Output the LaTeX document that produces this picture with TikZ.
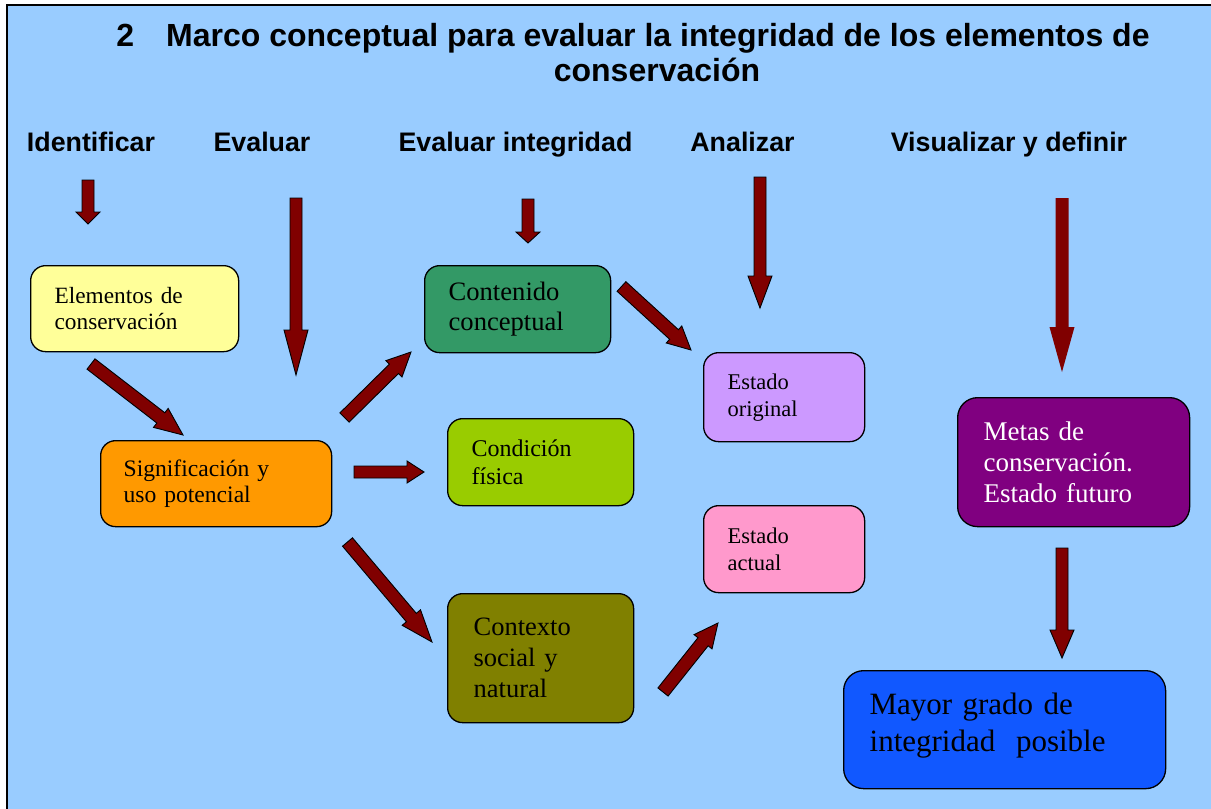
\documentclass[tikz,border=0pt]{standalone}
\usepackage{fontspec}
\setmainfont{Liberation Serif}
\newfontfamily\hfont{Liberation Sans}
\usetikzlibrary{calc}
\definecolor{bg}{HTML}{99CCFF}
\definecolor{arrowred}{HTML}{800000}
\definecolor{cyellow}{HTML}{FFFF99}
\definecolor{corange}{HTML}{FF9900}
\definecolor{cgreen}{HTML}{339966}
\definecolor{clime}{HTML}{99CC00}
\definecolor{clav}{HTML}{CC99FF}
\definecolor{cpink}{HTML}{FF99CC}
\definecolor{cpurple}{HTML}{800080}
\definecolor{colive}{HTML}{808000}
\definecolor{cblue}{HTML}{1158FF}
\tikzset{
  box/.style={draw=black, line width=1.3pt, rounded corners=15pt, anchor=north west,
    inner ysep=0pt, align=left},
  blockarr/.style={fill=arrowred, draw=black, line width=0.9pt, line join=miter},
  heading/.style={font=\hfont\bfseries\fontsize{26.8}{30}\selectfont, anchor=base, inner sep=0pt},
  titletext/.style={font=\hfont\bfseries\fontsize{32}{37}\selectfont, anchor=base, inner sep=0pt},
}
\newcommand{\blockarrow}[6][]{%
  \coordinate (neck) at ($(#3)!#6!(#2)$);
  \draw[blockarr,#1] ($(#2)!#4!90:(#3)$) -- ($(neck)!#4!90:(#3)$) -- ($(neck)!#5!90:(#3)$)
    -- (#3) -- ($(neck)!#5!-90:(#3)$) -- ($(neck)!#4!-90:(#3)$) -- ($(#2)!#4!-90:(#3)$) -- cycle;
}
\begin{document}
\begin{tikzpicture}[x=1pt,y=-1pt]
\useasboundingbox (0,0) rectangle (1211,809);
\clip (0,0) rectangle (1211,809);
\fill[white] (0,0) rectangle (1211,809);
\draw[fill=bg, draw=black, line width=2pt] (7,5) rectangle (1225,825);

% title
\node[titletext] (title1) at (633,46) {2\quad Marco conceptual para evaluar la integridad de los elementos de};
\node[titletext] (title2) at (657,81) {conservación};

% headings
\node[heading] (h1) at (91,151) {Identificar};
\node[heading] (h2) at (262,151) {Evaluar};
\node[heading] (h3) at (515.5,151) {Evaluar integridad};
\node[heading] (h4) at (742.5,151) {Analizar};
\node[heading] (h5) at (1009,151) {Visualizar y definir};

% boxes
\node[box, fill=cyellow, minimum width=208pt, minimum height=86pt, text width=160pt, inner xsep=24pt,
  font=\fontsize{23.3}{26}\selectfont] (elem) at (30,265) {Elementos de\\conservación};
\node[box, fill=corange, minimum width=231pt, minimum height=86pt, text width=185pt, inner xsep=23pt,
  font=\fontsize{23.6}{26}\selectfont] (sig) at (100,440) {Significación y\\uso potencial};
\node[box, fill=cgreen, minimum width=186pt, minimum height=87pt, text width=138pt, inner xsep=24pt,
  font=\fontsize{26.6}{30}\selectfont] (cont) at (424,265) {Contenido\\conceptual};
\node[box, fill=clime, minimum width=186pt, minimum height=87pt, text width=138pt, inner xsep=24pt,
  font=\fontsize{24}{28}\selectfont] (cond) at (447,418) {Condición\\física};
\node[box, fill=colive, minimum width=186pt, minimum height=129pt, text width=134pt, inner xsep=26pt,
  font=\fontsize{26.5}{31}\selectfont] (ctx) at (447,593) {Contexto\\social y\\natural};
\node[box, fill=clav, minimum width=161pt, minimum height=89pt, text width=113pt, inner xsep=24pt,
  font=\fontsize{22.5}{27}\selectfont] (orig) at (703,352) {Estado\\original};
\node[box, fill=cpink, minimum width=161pt, minimum height=87pt, text width=113pt, inner xsep=24pt,
  font=\fontsize{22.5}{27}\selectfont] (act) at (703,505) {Estado\\actual};
\node[box, fill=cpurple, text=white, rounded corners=20pt, minimum width=232pt, minimum height=129pt,
  text width=180pt, inner xsep=26pt, font=\fontsize{27}{31}\selectfont] (metas) at (957,397)
  {Metas de\\conservación.\\Estado futuro};
\node[box, fill=cblue, rounded corners=20pt, minimum width=322pt, minimum height=118pt,
  text width=270pt, inner xsep=26pt, font=\fontsize{31}{37}\selectfont] (mayor) at (843,670)
  {Mayor grado de\\integridad\ \ posible\\[-34pt]\strut};

% arrow end points
\coordinate (a1t) at (88,180);   \coordinate (a1h) at (88,224);
\coordinate (a2t) at (296,198);  \coordinate (a2h) at (296,375);
\coordinate (a3t) at (528,199);  \coordinate (a3h) at (528,243);
\coordinate (a4t) at (760,177);  \coordinate (a4h) at (760,308);
\coordinate (a5t) at (1062,198); \coordinate (a5h) at (1062,372);
\coordinate (a6t) at (1062,548); \coordinate (a6h) at (1062,658);
\coordinate (a7t) at (91,364);   \coordinate (a7h) at (183,435);
\coordinate (a8t) at (344.5,417.5); \coordinate (a8h) at (411,352);
\coordinate (a9t) at (354,472);  \coordinate (a9h) at (424,472);
\coordinate (a10t) at (347.5,542); \coordinate (a10h) at (432,642);
\coordinate (a11t) at (621.5,286.5); \coordinate (a11h) at (691,350);
\coordinate (a12t) at (663,692); \coordinate (a12h) at (718,623);

\blockarrow{a1t}{a1h}{6pt}{12pt}{12pt}
\blockarrow{a2t}{a2h}{6pt}{12pt}{45pt}
\blockarrow{a3t}{a3h}{6pt}{12pt}{11pt}
\blockarrow{a4t}{a4h}{6pt}{12pt}{32pt}
\blockarrow[draw=none]{a5t}{a5h}{6.5pt}{12.5pt}{45pt}
\blockarrow{a6t}{a6h}{6pt}{12pt}{28pt}
\blockarrow{a7t}{a7h}{6.5pt}{12pt}{28pt}
\blockarrow{a8t}{a8h}{6.5pt}{11.5pt}{24pt}
\blockarrow{a9t}{a9h}{6pt}{11pt}{17pt}
\blockarrow{a10t}{a10h}{6.5pt}{12pt}{32pt}
\blockarrow{a11t}{a11h}{6.5pt}{11.5pt}{23pt}
\blockarrow{a12t}{a12h}{6.5pt}{11.5pt}{24pt}
\end{tikzpicture}
\end{document}
